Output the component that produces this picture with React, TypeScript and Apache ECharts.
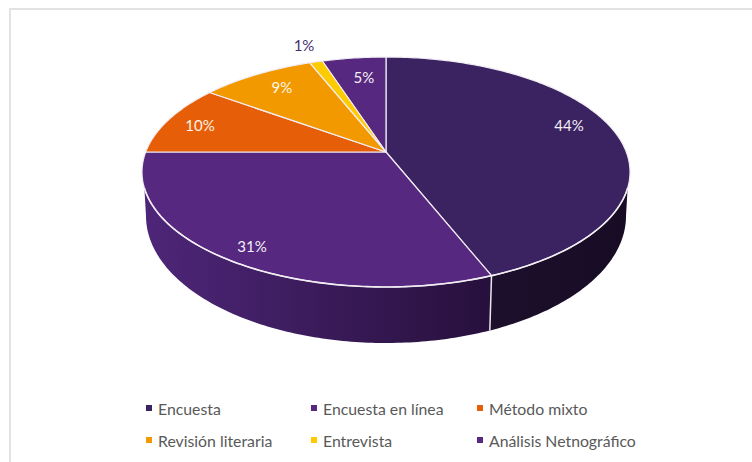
import React, { useEffect, useRef } from "react";
import * as echarts from "echarts";

const categories = ["Encuesta", "Encuesta en línea", "Método mixto", "Revisión literaria", "Entrevista", "Análisis Netnográfico"];
const shares = [44, 31, 10, 9, 1, 5];
const faceColors = ["#3b2260", "#57287f", "#e65f08", "#f29900", "#fdcb00", "#57287f"];
const wallStops = [
  ["#1c0f2c", "#170c24"],
  ["#4e2679", "#27103c"],
  ["#e65f08", "#e65f08"],
  ["#f29900", "#f29900"],
  ["#fdcb00", "#fdcb00"],
  ["#57287f", "#57287f"],
];
const labelColors = ["#f3eef7", "#f3eef7", "#fdf3ea", "#fff7e8", "#45306f", "#f3eef7"];
// Radial position of each percentage, as a fraction of the disc radius, plus an angular nudge in degrees.
const labelReach = [0.834, 0.881, 0.847, 0.808, 1.22, 0.769];
const labelTurn = [-6.8, -0.7, -0.6, 1.2, 0.2, 1.2];

const LEGEND_FONT = "Lato";

// Perspective projection of the pie disc; the apex sits above the ellipse centre.
const APEX_X = 386;
const APEX_Y = 152;
const SPREAD_X = 240.3;
const SPREAD_Y = 111.5;
const TILT = 0.174;

// Ellipses traced by the disc's top rim and by its lower edge.
const TOP = { cy: 172, rx: 244, ry: 115 };
const LOWER = { cy: 216, rx: 240, ry: 127 };
const RIM_FROM = 8;
const RIM_TO = 172;

const rad = (deg: number) => (deg * Math.PI) / 180;

function project(thetaDeg: number, reach = 1): [number, number] {
  const u = reach * Math.sin(rad(thetaDeg));
  const v = -reach * Math.cos(rad(thetaDeg));
  const d = 1 - TILT * v;
  return [APEX_X + (SPREAD_X * u) / d, APEX_Y + (SPREAD_Y * v) / d];
}

// Parameter angle on the top ellipse for a disc angle, running from -90 up to 270.
function rimAngle(thetaDeg: number): number {
  const [x, y] = project(thetaDeg);
  let phi = (Math.atan2((y - TOP.cy) / TOP.ry, (x - APEX_X) / TOP.rx) * 180) / Math.PI;
  if (phi < -90) phi += 360;
  if (thetaDeg > 180 && phi < 90) phi += 360;
  return phi;
}

const onEllipse = (e: { cy: number; rx: number; ry: number }, phi: number): [number, number] => [
  APEX_X + e.rx * Math.cos(rad(phi)),
  e.cy + e.ry * Math.sin(rad(phi)),
];

function sweep(from: number, to: number): number[] {
  const out: number[] = [];
  for (let a = from; a < to; a += 1) out.push(a);
  out.push(to);
  return out;
}

function sliceRenderer(index: number, startShare: number) {
  return () => {
    const value = shares[index];
    const theta0 = startShare * 3.6;
    const theta1 = (startShare + value) * 3.6;
    const children: any[] = [];

    const phi0 = rimAngle(theta0);
    const phi1 = rimAngle(theta1);
    const a = Math.max(phi0, RIM_FROM);
    const b = Math.min(phi1, RIM_TO);

    // Side wall, only for the part of the rim facing the viewer.
    if (a < b) {
      const lowerFrom = phi0 <= RIM_FROM ? 0 : a;
      const lowerTo = phi1 >= RIM_TO ? 180 : b;
      const rim = sweep(a, b).map((p) => onEllipse(TOP, p));
      const lower = sweep(lowerFrom, lowerTo).reverse().map((p) => onEllipse(LOWER, p));
      children.push({
        type: "polygon",
        shape: { points: [...rim, ...lower] },
        style: {
          fill: new echarts.graphic.LinearGradient(0, 0, 1, 0, [
            { offset: 0, color: wallStops[index][0] },
            { offset: 1, color: wallStops[index][1] },
          ]),
        },
      });
      if (phi0 > RIM_FROM) {
        const p = onEllipse(TOP, a);
        const q = onEllipse(LOWER, a);
        children.push({
          type: "line",
          shape: { x1: p[0], y1: p[1], x2: q[0], y2: q[1] },
          style: { stroke: "#e9e6ee", lineWidth: 1.5 },
        });
      }
    }

    // Top face of the slice.
    const arc = sweep(theta0, theta1).map((t) => project(t));
    children.push({
      type: "polygon",
      shape: { points: [[APEX_X, APEX_Y], ...arc] },
      style: { fill: faceColors[index], stroke: "#f1edf3", lineWidth: 1.2, lineJoin: "round" },
    });

    // White highlight along the front rim.
    if (a < b) {
      children.push({
        type: "polyline",
        shape: { points: sweep(a, b).map((p) => onEllipse(TOP, p)) },
        style: { fill: "none", stroke: "#f1edf3", lineWidth: 1.6 },
      });
    }

    const [lx, ly] = project((theta0 + theta1) / 2 + labelTurn[index], labelReach[index]);
    children.push({
      type: "text",
      z2: 10,
      style: {
        text: `${value}%`,
        x: lx,
        y: ly,
        fill: labelColors[index],
        fontFamily: LEGEND_FONT,
        fontSize: 15,
        align: "center",
        verticalAlign: "middle",
      },
    });

    return { type: "group", children };
  };
}

export default function App() {
  const ref = useRef<HTMLDivElement>(null);

  useEffect(() => {
    const chart = echarts.init(ref.current!, undefined, { renderer: "svg" });

    let running = 0;
    const series = categories.map((name, i) => {
      const start = running;
      running += shares[i];
      return {
        type: "custom",
        name,
        coordinateSystem: "none",
        silent: true,
        itemStyle: { color: faceColors[i] },
        z: i === 4 ? 3 : 2,
        data: [[start, shares[i]]],
        renderItem: sliceRenderer(i, start),
      };
    });

    const legendColumn = (names: string[], left: number) => ({
      data: names,
      orient: "vertical",
      left,
      top: 400,
      padding: 0,
      itemWidth: 6,
      itemHeight: 6,
      itemGap: 16,
      icon: "rect",
      selectedMode: false,
      textStyle: { color: "#595959", fontFamily: LEGEND_FONT, fontSize: 15.8, padding: [0, 0, 0, 1] },
    });

    chart.setOption({
      animation: false,
      backgroundColor: "#ffffff",
      legend: [
        legendColumn([categories[0], categories[3]], 146),
        legendColumn([categories[1], categories[4]], 311),
        legendColumn([categories[2], categories[5]], 477),
      ],
      graphic: [
        { type: "line", silent: true, shape: { x1: 9, y1: 9, x2: 752, y2: 9 }, style: { stroke: "#e2e2e2", lineWidth: 2 } },
        { type: "line", silent: true, shape: { x1: 10, y1: 8, x2: 10, y2: 462 }, style: { stroke: "#e2e2e2", lineWidth: 2 } },
      ],
      series,
    });

    return () => chart.dispose();
  }, []);

  return <div ref={ref} style={{ position: "fixed", left: 0, top: 0, width: 752, height: 462 }} />;
}
